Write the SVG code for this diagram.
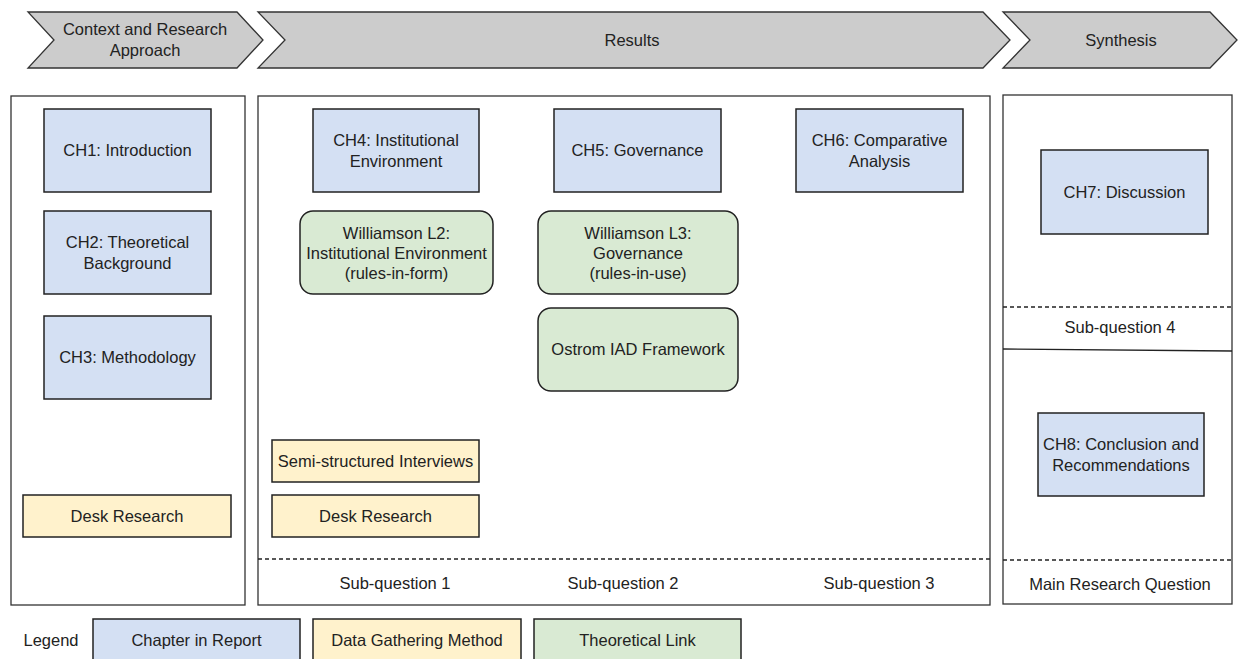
<svg xmlns="http://www.w3.org/2000/svg" width="1238" height="659" viewBox="0 0 1238 659">
<style>
text{font-family:"Liberation Sans",Arial,sans-serif;font-size:16.5px;fill:#222;text-anchor:middle}
.chev{fill:#cccccc;stroke:#333;stroke-width:1.3}
.panel{fill:#fff;stroke:#333;stroke-width:1.3}
.ch{fill:#d4e0f3;stroke:#222;stroke-width:1.5}
.dg{fill:#fff2cc;stroke:#222;stroke-width:1.5}
.th{fill:#d9ead3;stroke:#222;stroke-width:1.5}
.dash{stroke:#222;stroke-width:1.3;stroke-dasharray:4 3;fill:none}
</style>
<rect width="1238" height="659" fill="#fff"/>
<g id="phase-context">
<polygon class="chev" points="28,12 237,12 263,40 237,68 28,68 54,40"/>
<text x="145" y="35">Context and Research</text>
<text x="145" y="56">Approach</text>
</g>
<g id="phase-results">
<polygon class="chev" points="258,12 983,12 1010,40 983,68 258,68 285,40"/>
<text x="632" y="46">Results</text>
</g>
<g id="phase-synthesis">
<polygon class="chev" points="1003,12 1210,12 1237,40 1210,68 1003,68 1030,40"/>
<text x="1121" y="46">Synthesis</text>
</g>
<g id="panel-context"><rect class="panel" x="11" y="96" width="234" height="509"/></g>
<g id="panel-results">
<rect class="panel" x="258" y="96" width="732" height="509"/>
<line class="dash" x1="258" y1="559" x2="990" y2="559"/>
<text x="395" y="589">Sub-question 1</text>
<text x="623" y="589">Sub-question 2</text>
<text x="879" y="589">Sub-question 3</text>
</g>
<g id="panel-synthesis">
<rect class="panel" x="1003" y="95" width="229" height="509"/>
<line class="dash" x1="1003" y1="307" x2="1232" y2="307"/>
<text x="1120" y="333">Sub-question 4</text>
<line x1="1003" y1="349" x2="1232" y2="351" stroke="#222" stroke-width="1.3"/>
<line class="dash" x1="1003" y1="560" x2="1232" y2="560"/>
<text x="1120" y="590">Main Research Question</text>
</g>
<g id="ch1"><rect class="ch" x="44" y="109" width="167" height="83"/><text x="127.5" y="156">CH1: Introduction</text></g>
<g id="ch2"><rect class="ch" x="44" y="211" width="167" height="83"/><text x="127.5" y="248">CH2: Theoretical</text><text x="127.5" y="269">Background</text></g>
<g id="ch3"><rect class="ch" x="44" y="316" width="167" height="83"/><text x="127.5" y="363">CH3: Methodology</text></g>
<g id="desk-context"><rect class="dg" x="23" y="495" width="208" height="42"/><text x="127" y="522">Desk Research</text></g>
<g id="ch4"><rect class="ch" x="313" y="109" width="166" height="83"/><text x="396" y="146">CH4: Institutional</text><text x="396" y="167">Environment</text></g>
<g id="ch5"><rect class="ch" x="554" y="109" width="167" height="83"/><text x="637.5" y="156">CH5: Governance</text></g>
<g id="ch6"><rect class="ch" x="796" y="109" width="167" height="83"/><text x="879.5" y="146">CH6: Comparative</text><text x="879.5" y="167">Analysis</text></g>
<g id="williamson-l2"><rect class="th" x="300" y="211" width="193" height="83" rx="13"/><text x="396.5" y="239">Williamson L2:</text><text x="396.5" y="259">Institutional Environment</text><text x="396.5" y="279">(rules-in-form)</text></g>
<g id="williamson-l3"><rect class="th" x="538" y="211" width="200" height="83" rx="13"/><text x="638" y="239">Williamson L3:</text><text x="638" y="259">Governance</text><text x="638" y="279">(rules-in-use)</text></g>
<g id="ostrom"><rect class="th" x="538" y="308" width="200" height="83" rx="13"/><text x="638" y="355">Ostrom IAD Framework</text></g>
<g id="interviews"><rect class="dg" x="272" y="440" width="207" height="42"/><text x="375.5" y="467">Semi-structured Interviews</text></g>
<g id="desk-results"><rect class="dg" x="272" y="495" width="207" height="42"/><text x="375.5" y="522">Desk Research</text></g>
<g id="ch7"><rect class="ch" x="1041" y="150" width="167" height="84"/><text x="1124.5" y="198">CH7: Discussion</text></g>
<g id="ch8"><rect class="ch" x="1038" y="413" width="166" height="83"/><text x="1121" y="450">CH8: Conclusion and</text><text x="1121" y="471">Recommendations</text></g>
<g id="legend">
<text x="51" y="646">Legend</text>
<rect class="ch" x="93" y="619" width="207" height="46"/><text x="196.5" y="646">Chapter in Report</text>
<rect class="dg" x="313" y="619" width="208" height="46"/><text x="417" y="646">Data Gathering Method</text>
<rect class="th" x="534" y="619" width="207" height="46"/><text x="637.5" y="646">Theoretical Link</text>
</g>
<g id="connectors"></g>
</svg>
